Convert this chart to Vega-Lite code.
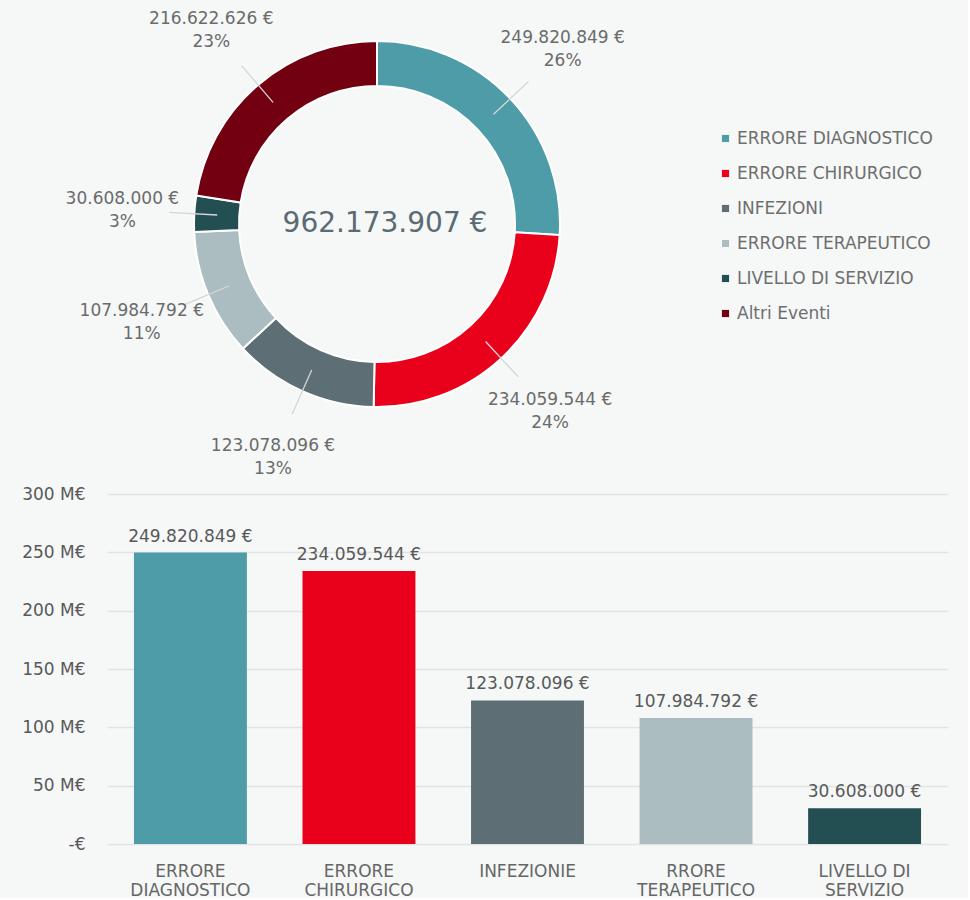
{
  "$schema": "https://vega.github.io/schema/vega-lite/v6.json",
  "background": "#f5f8f7",
  "padding": {"left": 21, "top": 0, "right": 20, "bottom": 0},
  "bounds": "flush",
  "spacing": 46,
  "config": {
    "view": {"stroke": null},
    "font": "DejaVu Sans",
    "locale": {"number": {"decimal": ",", "thousands": ".", "grouping": [3], "currency": ["", " €"]}}
  },
  "datasets": {
    "eventi": [
      {"categoria": "ERRORE DIAGNOSTICO", "importo": 249820849, "quota": 0.26},
      {"categoria": "ERRORE CHIRURGICO", "importo": 234059544, "quota": 0.24},
      {"categoria": "INFEZIONI", "importo": 123078096, "quota": 0.13},
      {"categoria": "ERRORE TERAPEUTICO", "importo": 107984792, "quota": 0.11},
      {"categoria": "LIVELLO DI SERVIZIO", "importo": 30608000, "quota": 0.03},
      {"categoria": "Altri Eventi", "importo": 216622626, "quota": 0.23}
    ],
    "barre": [
      {"voce": "ERRORE DIAGNOSTICO", "importo": 249820849},
      {"voce": "ERRORE CHIRURGICO", "importo": 234059544},
      {"voce": "INFEZIONIE", "importo": 123078096},
      {"voce": "RRORE TERAPEUTICO", "importo": 107984792},
      {"voce": "LIVELLO DI SERVIZIO", "importo": 30608000}
    ]
  },
  "resolve": {"scale": {"color": "independent"}, "legend": {"color": "independent"}},
  "vconcat": [
    {
      "width": 540,
      "height": 448,
      "data": {"name": "eventi"},
      "transform": [{"window": [{"op": "row_number", "as": "ordine"}]}],
      "layer": [
        {
          "mark": {"type": "arc", "outerRadius": 183, "innerRadius": 138, "stroke": "#ffffff", "strokeWidth": 2},
          "encoding": {
            "theta": {"field": "importo", "type": "quantitative", "stack": true},
            "order": {"field": "ordine", "type": "quantitative"},
            "color": {
              "field": "categoria",
              "type": "nominal",
              "scale": {
                "domain": ["ERRORE DIAGNOSTICO", "ERRORE CHIRURGICO", "INFEZIONI", "ERRORE TERAPEUTICO", "LIVELLO DI SERVIZIO", "Altri Eventi"],
                "range": ["#4e9ca8", "#e9001b", "#5d6e75", "#abbdc1", "#244f52", "#720010"]
              },
              "legend": {
                "title": null,
                "orient": "none",
                "legendX": 610,
                "legendY": 130,
                "symbolType": "square",
                "symbolSize": 70,
                "symbolStrokeWidth": 1,
                "labelFontSize": 17,
                "labelColor": "#6e6e6e",
                "labelOffset": 3,
                "rowPadding": 17,
                "labelLimit": 0
              }
            }
          }
        },
        {
          "mark": {"type": "arc", "outerRadius": 208, "innerRadius": 160, "padAngle": 3, "filled": false, "stroke": "#d6d6d6", "strokeWidth": 1.3},
          "encoding": {
            "theta": {"field": "importo", "type": "quantitative", "stack": true},
            "order": {"field": "ordine", "type": "quantitative"}
          }
        },
        {
          "mark": {"type": "text", "radius": 255, "dy": -11, "fontSize": 17, "color": "#6b6b6b"},
          "encoding": {
            "theta": {"field": "importo", "type": "quantitative", "stack": true},
            "order": {"field": "ordine", "type": "quantitative"},
            "text": {"field": "importo", "type": "quantitative", "format": "$,.0f"}
          }
        },
        {
          "mark": {"type": "text", "radius": 255, "dy": 12, "fontSize": 17, "color": "#6b6b6b"},
          "encoding": {
            "theta": {"field": "importo", "type": "quantitative", "stack": true},
            "order": {"field": "ordine", "type": "quantitative"},
            "text": {"field": "quota", "type": "quantitative", "format": ".0%"}
          }
        },
        {
          "transform": [{"aggregate": [{"op": "sum", "field": "importo", "as": "totale"}]}],
          "mark": {"type": "text", "fontSize": 28, "color": "#5b6b74", "dx": 8, "dy": 0},
          "encoding": {
            "text": {"field": "totale", "type": "quantitative", "format": "$,.0f"}
          }
        }
      ]
    },
    {
      "width": 841,
      "height": 350,
      "data": {"name": "barre"},
      "encoding": {
        "x": {
          "field": "voce",
          "type": "nominal",
          "sort": null,
          "scale": {"paddingInner": 0.33, "paddingOuter": 0.16},
          "axis": {
            "title": null,
            "labelAngle": 0,
            "ticks": false,
            "domain": false,
            "labelPadding": 19,
            "labelFontSize": 17,
            "labelColor": "#666666",
            "labelLineHeight": 19,
            "labelLimit": 0,
            "labelExpr": "indexof(datum.label, ' ') < 0 ? datum.label : [substring(datum.label, 0, lastindexof(datum.label, ' ')), substring(datum.label, lastindexof(datum.label, ' ') + 1)]"
          }
        },
        "y": {
          "field": "importo",
          "type": "quantitative",
          "scale": {"domain": [0, 300000000], "nice": false},
          "axis": {
            "title": null,
            "values": [0, 50000000, 100000000, 150000000, 200000000, 250000000, 300000000],
            "ticks": false,
            "domain": false,
            "labelPadding": 22,
            "labelFontSize": 17,
            "labelColor": "#595959",
            "gridColor": "#e1e4e4",
            "gridWidth": 1.5,
            "labelExpr": "datum.value == 0 ? '-€' : format(datum.value / 1000000, 'd') + ' M€'"
          }
        }
      },
      "layer": [
        {
          "mark": {"type": "bar"},
          "encoding": {
            "color": {
              "field": "voce",
              "type": "nominal",
              "scale": {
                "domain": ["ERRORE DIAGNOSTICO", "ERRORE CHIRURGICO", "INFEZIONIE", "RRORE TERAPEUTICO", "LIVELLO DI SERVIZIO"],
                "range": ["#4e9ca8", "#e9001b", "#5d6e75", "#abbdc1", "#244f52"]
              },
              "legend": null
            }
          }
        },
        {
          "mark": {"type": "text", "baseline": "bottom", "dy": -7, "fontSize": 17, "color": "#595959"},
          "encoding": {
            "text": {"field": "importo", "type": "quantitative", "format": "$,.0f"}
          }
        }
      ]
    }
  ]
}
